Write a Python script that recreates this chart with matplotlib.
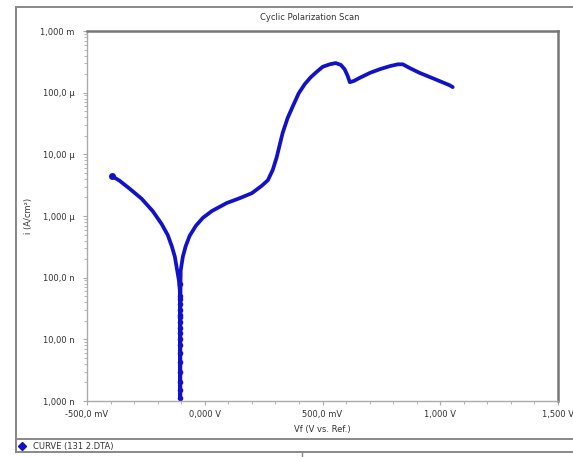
import matplotlib
matplotlib.use('Agg')
import matplotlib.pyplot as plt
from matplotlib.ticker import FixedLocator, FuncFormatter, MultipleLocator
from matplotlib.lines import Line2D
import numpy as np

# cathodic branch (V vs ref, log10 of current density)
v_left = [-0.395, -0.361, -0.318, -0.268, -0.221, -0.183, -0.157, -0.140, -0.127, -0.119, -0.110, -0.106]
logi_left = [-5.35, -5.43, -5.56, -5.72, -5.92, -6.13, -6.31, -6.49, -6.66, -6.84, -7.04, -7.20]

# points around the corrosion potential
v_dip = [-0.105, -0.105, -0.104, -0.104, -0.104, -0.104, -0.104, -0.104, -0.104, -0.104,
         -0.104, -0.104, -0.104, -0.104, -0.104, -0.104, -0.103, -0.103]
logi_dip = [-7.30, -7.42, -7.52, -7.63, -7.72, -7.82, -7.90, -8.00, -8.09, -8.22, -8.37,
            -8.53, -8.69, -8.82, -8.95, -7.60, -7.35, -7.10]

# anodic branch
v_right = [-0.102, -0.093, -0.081, -0.064, -0.038, -0.008, 0.030, 0.093, 0.149, 0.200, 0.242,
           0.268, 0.289, 0.306, 0.318, 0.331, 0.352, 0.374, 0.399, 0.425, 0.450, 0.476, 0.501,
           0.531, 0.556, 0.578, 0.594, 0.607, 0.616, 0.633, 0.658, 0.701, 0.743, 0.786, 0.820,
           0.841, 0.870, 0.913, 0.977, 1.040, 1.053]
logi_right = [-6.88, -6.66, -6.49, -6.32, -6.16, -6.03, -5.92, -5.79, -5.71, -5.63, -5.51,
              -5.42, -5.25, -5.04, -4.85, -4.65, -4.41, -4.22, -4.01, -3.86, -3.75, -3.66, -3.58,
              -3.54, -3.52, -3.55, -3.62, -3.73, -3.83, -3.81, -3.76, -3.68, -3.62, -3.57, -3.54,
              -3.54, -3.60, -3.68, -3.78, -3.88, -3.91]

ytick_exp = [-9, -8, -7, -6, -5, -4, -3]
ytick_labels = ['1,000 n', '10,00 n', '100,0 n', '1,000 \u00b5', '10,00 \u00b5', '100,0 \u00b5', '1,000 m']
xtick_vals = [-0.5, 0.0, 0.5, 1.0, 1.5]
xtick_labels = ['-500,0 mV', '0,000 V', '500,0 mV', '1,000 V', '1,500 V']

blue = '#1111c8'
grey = '#888888'

fig = plt.figure(figsize=[5.73, 4.57], dpi=100)
W, H = 573.0, 457.0

# outer frame and legend strip
fig.add_artist(Line2D([16/W, 16/W], [1-7/H, 1-452/H], color=grey, lw=1.4))
fig.add_artist(Line2D([16/W, 1], [1-7/H, 1-7/H], color=grey, lw=1.4))
fig.add_artist(Line2D([16/W, 1], [1-439/H, 1-439/H], color=grey, lw=1.4))
fig.add_artist(Line2D([16/W, 1], [1-452/H, 1-452/H], color=grey, lw=1.4))
fig.add_artist(Line2D([302/W, 302/W], [1-452/H, 0], color=grey, lw=1.0))
fig.add_artist(Line2D([22/W], [1-446/H], marker='D', color=blue, ms=4))
fig.text(33/W, 1-446/H, 'CURVE (131 2.DTA)', fontsize=6, va='center', ha='left', color='#333333')

fig.text(310/W, 1-17/H, 'Cyclic Polarization Scan', fontsize=6, ha='center', va='center', color='#333333')

ax = fig.add_axes([87/W, 1-401/H, (558-87)/W, (401-31)/H])

V = np.array(v_left + v_dip + v_right)
I = 10.0 ** np.array(logi_left + logi_dip + logi_right)
ax.plot(V, I, color=blue, lw=2.7, solid_capstyle='round', solid_joinstyle='round')
ax.plot(v_dip, 10.0 ** np.array(logi_dip), 'o', color=blue, ms=3)
ax.plot(v_left[0], 10.0 ** logi_left[0], 'o', color=blue, ms=4)

ax.set_yscale('log')
ax.set_ylim(1e-9, 1e-3)
ax.set_xlim(-0.5, 1.5)
ax.yaxis.set_major_locator(FixedLocator([10.0 ** e for e in ytick_exp]))
ax.yaxis.set_major_formatter(FuncFormatter(lambda y, p: ytick_labels[ytick_exp.index(int(round(np.log10(y))))]))
ax.xaxis.set_major_locator(FixedLocator(xtick_vals))
ax.xaxis.set_major_formatter(FuncFormatter(lambda x, p: xtick_labels[xtick_vals.index(round(x, 1))] if round(x, 1) in xtick_vals else ''))
ax.xaxis.set_minor_locator(MultipleLocator(0.1))

ax.tick_params(which='both', direction='out', colors='#aaaaaa', labelcolor='#333333', labelsize=6)
ax.tick_params(which='major', length=3, width=0.8)
ax.tick_params(which='minor', length=2, width=0.6)
ax.tick_params(axis='y', pad=6)

for s in ['left', 'bottom']:
    ax.spines[s].set_color('#aaaaaa')
    ax.spines[s].set_linewidth(1.0)
for s in ['top', 'right']:
    ax.spines[s].set_color('#777777')
    ax.spines[s].set_linewidth(1.8)

ax.set_xlabel('Vf (V vs. Ref.)', fontsize=6, color='#333333', labelpad=4)
ax.set_ylabel('i (A/cm\u00b2)', fontsize=6, color='#333333', labelpad=5)

plt.savefig('out.png', dpi=100)
